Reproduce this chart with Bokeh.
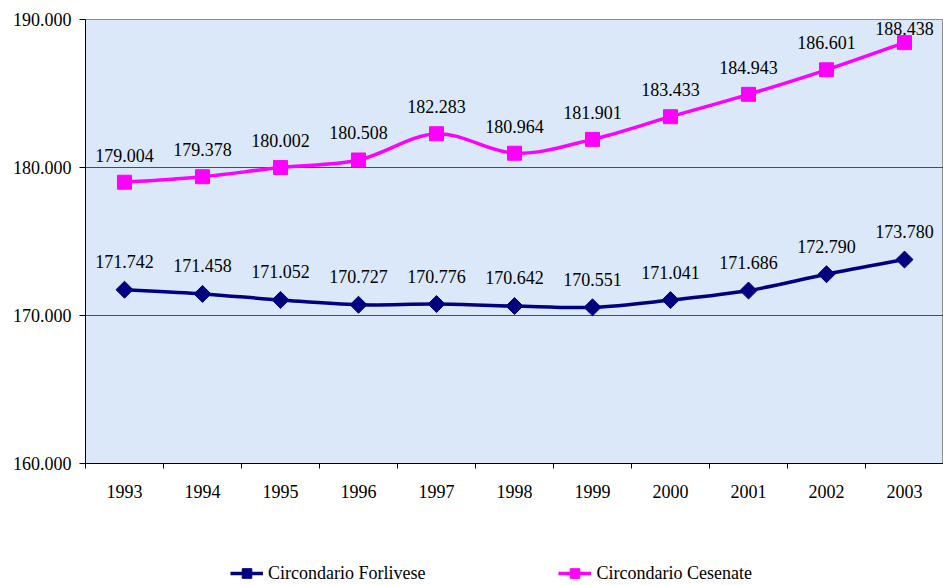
import numpy as np
from bokeh.plotting import figure
from bokeh.layouts import column
from bokeh.models import (Range1d, FixedTicker, Legend, LegendItem, ColumnDataSource)
from bokeh.core.properties import value
from bokeh.embed import file_html
from bokeh.resources import INLINE

years = [1993, 1994, 1995, 1996, 1997, 1998, 1999, 2000, 2001, 2002, 2003]
forlivese = [171742, 171458, 171052, 170727, 170776, 170642, 170551, 171041, 171686, 172790, 173780]
cesenate = [179004, 179378, 180002, 180508, 182283, 180964, 181901, 183433, 184943, 186601, 188438]
y_ticks = [160000, 170000, 180000, 190000]
series_names = ["Circondario Forlivese", "Circondario Cesenate"]

FONT = "Liberation Serif"
FS = "18px"


def fmt(v):
    return f"{v:,}".replace(",", ".")


def smooth_segments(xs, ys):
    n = len(xs)
    d = dict(x0=[], y0=[], x1=[], y1=[], cx0=[], cy0=[], cx1=[], cy1=[])
    for i in range(n - 1):
        ip = max(i - 1, 0)
        inx = min(i + 2, n - 1)
        d["x0"].append(xs[i]); d["y0"].append(ys[i])
        d["x1"].append(xs[i + 1]); d["y1"].append(ys[i + 1])
        d["cx0"].append(xs[i] + (xs[i + 1] - xs[ip]) / 6.0)
        d["cy0"].append(ys[i] + (ys[i + 1] - ys[ip]) / 6.0)
        d["cx1"].append(xs[i + 1] - (xs[inx] - xs[i]) / 6.0)
        d["cy1"].append(ys[i + 1] - (ys[inx] - ys[i]) / 6.0)
    return ColumnDataSource(d)


p = figure(width=943, height=560, output_backend="svg", toolbar_location=None,
           x_range=Range1d(years[0] - 0.5, years[-1] + 0.5),
           y_range=Range1d(y_ticks[0], y_ticks[-1]),
           min_border_left=85, min_border_right=0, min_border_top=19, min_border_bottom=97)

p.background_fill_color = "#dbe8f9"
p.border_fill_color = "white"
p.outline_line_color = "#8c8c8c"
p.outline_line_width = 1

p.xgrid.visible = False
p.ygrid.ticker = FixedTicker(ticks=y_ticks)
p.ygrid.grid_line_color = "#4d4d4d"
p.ygrid.grid_line_width = 1

# x axis
xa = p.xaxis[0]
xa.ticker = FixedTicker(ticks=years, minor_ticks=[y - 0.5 for y in years] + [years[-1] + 0.5])
xa.major_label_overrides = {y: str(y) for y in years}
xa.major_tick_out = 0
xa.major_tick_in = 0
xa.minor_tick_out = 5
xa.minor_tick_in = 0
xa.minor_tick_line_color = "black"
xa.axis_line_color = "black"
xa.major_label_standoff = 16
xa.major_label_text_font = FONT
xa.major_label_text_font_size = FS
xa.major_label_text_color = "black"

# y axis
ya = p.yaxis[0]
ya.ticker = FixedTicker(ticks=y_ticks)
ya.major_label_overrides = {v: fmt(v) for v in y_ticks}
ya.major_tick_out = 6
ya.major_tick_in = 0
ya.minor_tick_out = 0
ya.minor_tick_in = 0
ya.axis_line_color = "black"
ya.major_tick_line_color = "black"
ya.major_label_standoff = 8
ya.major_label_text_font = FONT
ya.major_label_text_font_size = FS
ya.major_label_text_color = "black"

colors = ["#000080", "#ff00ff"]
label_offsets = [
    [-28] * len(years),
    [-27] * (len(years) - 1) + [-14],
]
styles = [("square", 12, np.pi / 4), ("square", 14, 0.0)]

# legend figure
lg = figure(width=943, height=25, output_backend="svg", toolbar_location=None,
            x_range=Range1d(0, 1), y_range=Range1d(0, 1),
            min_border_left=0, min_border_right=0, min_border_top=0, min_border_bottom=0)
lg.axis.visible = False
lg.grid.visible = False
lg.outline_line_color = None
lg.background_fill_color = "white"
lg.border_fill_color = "white"

items = []
for k, (name, vals) in enumerate(zip(series_names, [forlivese, cesenate])):
    col = colors[k]
    marker, size, angle = styles[k]
    src = smooth_segments(years, vals)
    p.bezier(x0="x0", y0="y0", x1="x1", y1="y1", cx0="cx0", cy0="cy0",
             cx1="cx1", cy1="cy1", source=src, line_color=col, line_width=3.5)
    pts = ColumnDataSource(dict(x=years, y=vals, label=[fmt(v) for v in vals],
                                yoff=label_offsets[k]))
    p.scatter("x", "y", source=pts, marker=marker, size=size, angle=angle,
              fill_color=col, line_color=col)
    p.text("x", "y", text="label", source=pts, text_align="center", text_baseline="middle",
           y_offset="yoff", text_font=value(FONT), text_font_size=FS, text_color="black")
    # off-view proxies, used only to draw the legend swatches
    l_line = lg.line(x=[5, 6], y=[5, 5], line_color=col, line_width=3.5)
    l_pts = lg.scatter(x=[5], y=[5], marker=marker, size=size, angle=angle,
                       fill_color=col, line_color=col)
    items.append(LegendItem(label=name, renderers=[l_line, l_pts]))

legend = Legend(items=items, orientation="horizontal", location=(145, 0),
                border_line_color=None, background_fill_alpha=0,
                label_text_font=FONT, label_text_font_size=FS, label_text_color="black",
                glyph_width=33, glyph_height=24, label_standoff=5, spacing=133,
                padding=0, margin=0, label_height=24)
lg.add_layout(legend)

layout = column(p, lg, spacing=0)
open("out.html", "w").write(file_html(layout, INLINE))
